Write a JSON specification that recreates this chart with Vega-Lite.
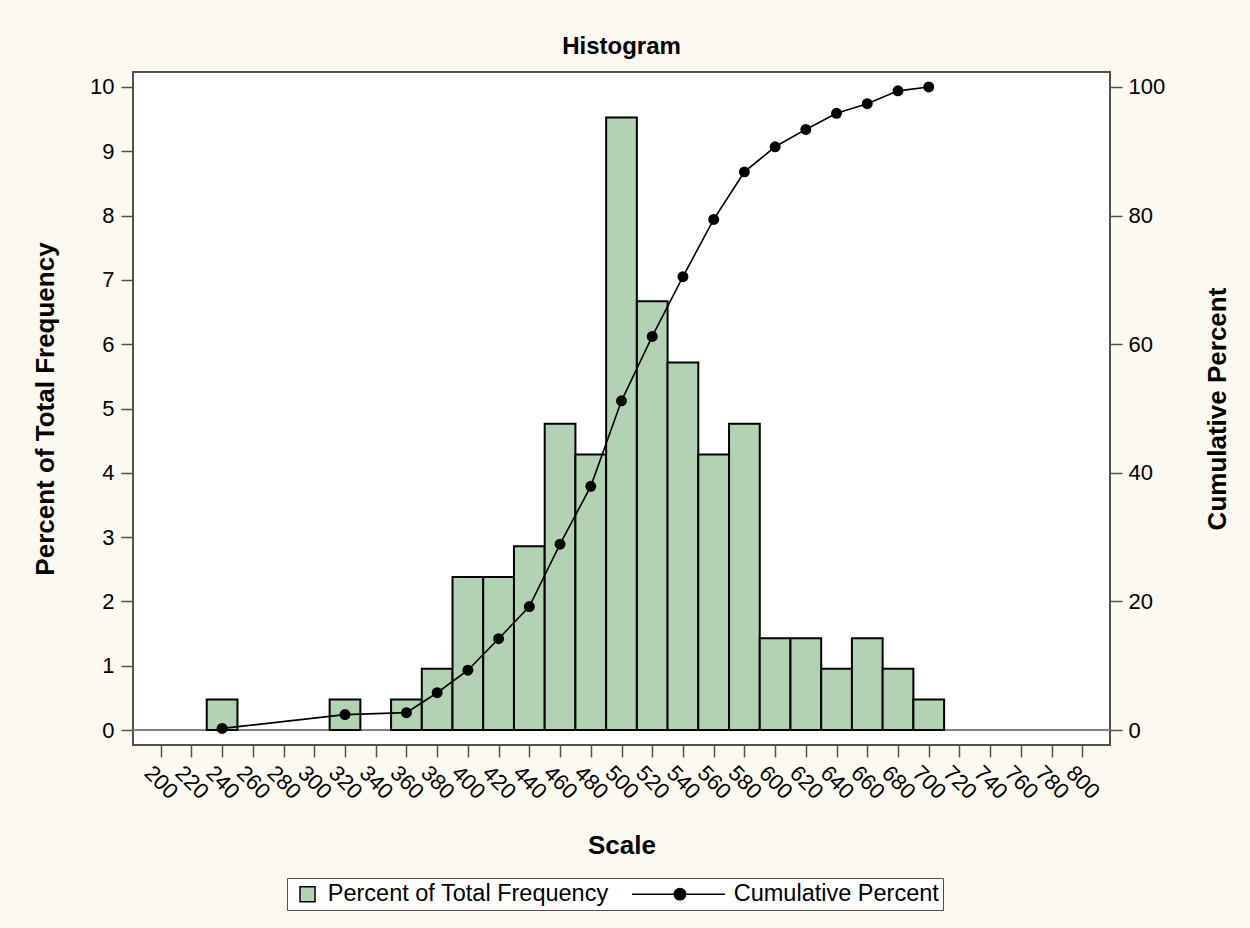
{
  "$schema": "https://vega.github.io/schema/vega-lite/v6.json",
  "width": 977,
  "height": 673,
  "autosize": {"type": "none"},
  "padding": {"left": 133, "top": 72, "right": 140, "bottom": 183},
  "background": "#fcf9f1",
  "title": {
    "text": "Histogram",
    "font": "'Liberation Sans Narrow', 'Liberation Sans', sans-serif",
    "fontSize": 24,
    "fontWeight": "bold",
    "color": "black",
    "anchor": "middle",
    "frame": "group",
    "baseline": "alphabetic",
    "offset": -6
  },
  "config": {
    "view": {"stroke": "#55504a", "strokeWidth": 2, "fill": "white"},
    "axis": {
      "labelFont": "'Liberation Sans', sans-serif",
      "labelFontSize": 22,
      "labelColor": "black",
      "titleFont": "'Liberation Sans Narrow', 'Liberation Sans', sans-serif",
      "titleFontSize": 26,
      "titleFontWeight": "bold",
      "titleColor": "black",
      "tickColor": "#55504a",
      "tickWidth": 1.5,
      "tickSize": 12,
      "domain": false,
      "grid": false,
      "labelOverlap": false,
      "labelBound": false,
      "labelFlush": false
    }
  },
  "data": {
    "values": [
      {"bin_start": 230, "bin_end": 250, "mid": 240, "pct": 0.476, "cum": 0.25},
      {"bin_start": 310, "bin_end": 330, "mid": 320, "pct": 0.476, "cum": 2.4},
      {"bin_start": 350, "bin_end": 370, "mid": 360, "pct": 0.476, "cum": 2.7},
      {"bin_start": 370, "bin_end": 390, "mid": 380, "pct": 0.952, "cum": 5.8},
      {"bin_start": 390, "bin_end": 410, "mid": 400, "pct": 2.381, "cum": 9.3},
      {"bin_start": 410, "bin_end": 430, "mid": 420, "pct": 2.381, "cum": 14.2},
      {"bin_start": 430, "bin_end": 450, "mid": 440, "pct": 2.857, "cum": 19.2},
      {"bin_start": 450, "bin_end": 470, "mid": 460, "pct": 4.762, "cum": 28.9},
      {"bin_start": 470, "bin_end": 490, "mid": 480, "pct": 4.286, "cum": 37.9},
      {"bin_start": 490, "bin_end": 510, "mid": 500, "pct": 9.524, "cum": 51.2},
      {"bin_start": 510, "bin_end": 530, "mid": 520, "pct": 6.667, "cum": 61.2},
      {"bin_start": 530, "bin_end": 550, "mid": 540, "pct": 5.714, "cum": 70.5},
      {"bin_start": 550, "bin_end": 570, "mid": 560, "pct": 4.286, "cum": 79.4},
      {"bin_start": 570, "bin_end": 590, "mid": 580, "pct": 4.762, "cum": 86.8},
      {"bin_start": 590, "bin_end": 610, "mid": 600, "pct": 1.429, "cum": 90.7},
      {"bin_start": 610, "bin_end": 630, "mid": 620, "pct": 1.429, "cum": 93.4},
      {"bin_start": 630, "bin_end": 650, "mid": 640, "pct": 0.952, "cum": 95.9},
      {"bin_start": 650, "bin_end": 670, "mid": 660, "pct": 1.429, "cum": 97.4},
      {"bin_start": 670, "bin_end": 690, "mid": 680, "pct": 0.952, "cum": 99.4},
      {"bin_start": 690, "bin_end": 710, "mid": 700, "pct": 0.476, "cum": 100}
    ]
  },
  "layer": [
    {
      "layer": [
        {
          "mark": {"type": "rule", "color": "#8a857c", "strokeWidth": 1.5},
          "encoding": {
            "y": {
              "datum": 0,
              "type": "quantitative",
              "scale": {"domain": [-0.233, 10.233], "nice": false, "zero": false},
              "axis": {
                "title": "Percent of Total Frequency",
                "values": [0, 1, 2, 3, 4, 5, 6, 7, 8, 9, 10],
                "labelPadding": 7,
                "titlePadding": 31
              }
            }
          }
        },
        {
          "mark": {"type": "bar", "stroke": "black", "strokeWidth": 2},
          "encoding": {
            "x": {
              "field": "bin_start",
              "type": "quantitative",
              "scale": {"domain": [182, 818], "nice": false, "zero": false},
              "axis": {
                "orient": "bottom",
                "title": "Scale",
                "values": [200, 240, 280, 320, 360, 400, 440, 480, 520, 560, 600, 640, 680, 720, 760, 800],
                "labelAngle": 45,
                "labelAlign": "center",
                "labelBaseline": "middle",
                "labelPadding": 25,
                "titlePadding": 30
              }
            },
            "x2": {"field": "bin_end"},
            "y": {
              "field": "pct",
              "type": "quantitative",
              "axis": {
                "title": "Percent of Total Frequency",
                "values": [0, 1, 2, 3, 4, 5, 6, 7, 8, 9, 10],
                "labelPadding": 7,
                "titlePadding": 31
              }
            },
            "y2": {"datum": 0},
            "fill": {
              "datum": "Percent of Total Frequency",
              "type": "nominal",
              "scale": {
                "domain": ["Percent of Total Frequency", "Cumulative Percent"],
                "range": ["#b3d1b3", "#000000"]
              },
              "legend": {
                "title": null,
                "orient": "none",
                "legendX": 154,
                "legendY": 806,
                "direction": "horizontal",
                "symbolType": "square",
                "symbolSize": 225,
                "symbolOffset": 4.75,
                "symbolStrokeColor": "black",
                "symbolStrokeWidth": 1.5,
                "labelFont": "'Liberation Sans Narrow', 'Liberation Sans', sans-serif",
                "labelFontSize": 23.5,
                "labelColor": "black",
                "labelLimit": 0,
                "labelOffset": 8.5,
                "labelExpr": "datum.value === 'Cumulative Percent' ? datum.value + '\u00a0\u00a0' : datum.value",
                "columnPadding": 19,
                "padding": 4,
                "strokeColor": "#55504a",
                "fillColor": "white",
                "encode": {
                  "symbols": {
                    "update": {
                      "shape": {"signal": "datum.value === 'Cumulative Percent' ? 'M-10.87,0L1.53,0M-5.22,0A0.75,0.75 0 1 0 -3.72,0A0.75,0.75 0 1 0 -5.22,0Z' : 'square'"},
                      "fill": {"signal": "datum.value === 'Cumulative Percent' ? '#000000' : '#b3d1b3'"},
                      "stroke": {"value": "black"},
                      "strokeWidth": {"value": 1.5},
                      "opacity": {"value": 1}
                    }
                  }
                }
              }
            }
          }
        }
      ]
    },
    {
      "layer": [
        {
          "mark": {"type": "line", "color": "black", "strokeWidth": 1.6},
          "encoding": {
            "x": {
              "field": "mid",
              "type": "quantitative",
              "axis": {
                "orient": "bottom",
                "title": null,
                "values": [220, 260, 300, 340, 380, 420, 460, 500, 540, 580, 620, 660, 700, 740, 780],
                "labelAngle": 45,
                "labelAlign": "center",
                "labelBaseline": "middle",
                "labelPadding": 25
              }
            },
            "y": {
              "field": "cum",
              "type": "quantitative",
              "scale": {"domain": [-2.33, 102.33], "nice": false, "zero": false},
              "axis": {
                "orient": "right",
                "title": "Cumulative Percent",
                "values": [0, 20, 40, 60, 80, 100],
                "labelPadding": 6,
                "titlePadding": 40,
                "titleAngle": 270,
                "titleBaseline": "top"
              }
            }
          }
        },
        {
          "mark": {"type": "point", "filled": true, "color": "black", "size": 120, "opacity": 1},
          "encoding": {
            "x": {"field": "mid", "type": "quantitative"},
            "y": {"field": "cum", "type": "quantitative"}
          }
        }
      ]
    }
  ],
  "resolve": {"scale": {"y": "independent"}, "axis": {"x": "independent"}}
}
